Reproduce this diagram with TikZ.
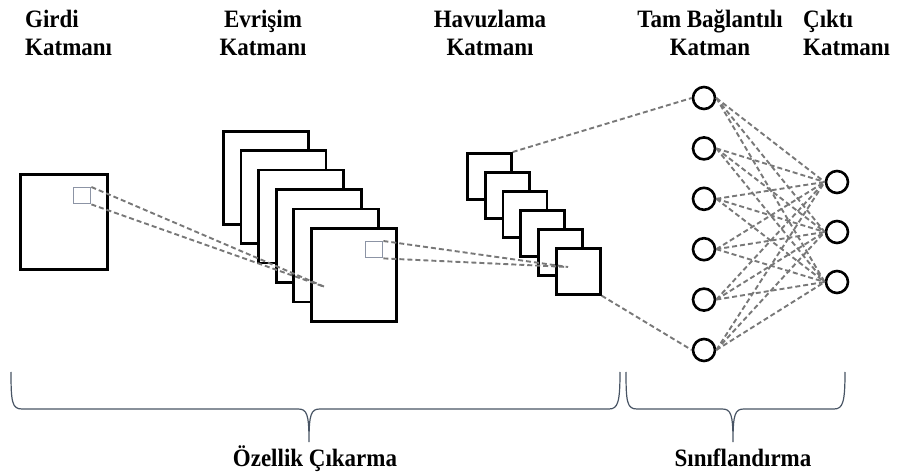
\documentclass[tikz,border=0pt]{standalone}
\usepackage{fontspec}
\setmainfont{Liberation Serif}[FakeStretch=0.92]
\definecolor{linkgray}{RGB}{120,120,120}
\definecolor{patchgray}{RGB}{140,148,165}
\definecolor{bracecol}{RGB}{72,84,100}
\usepackage{tikz}

\begin{document}
\begin{tikzpicture}[x=1pt,y=-1pt,
    lbl/.style={font=\bfseries\fontsize{25}{28}\selectfont,inner sep=0pt},
    fmap/.style={draw,line width=2.7pt,fill=white,anchor=north west,inner sep=0pt},
    patch/.style={draw=patchgray,line width=1.4pt,anchor=north west,inner sep=0pt,minimum width=17pt,minimum height=16pt},
    neuron/.style={circle,draw,line width=2.6pt,fill=white,inner sep=0pt,minimum size=22pt},
    link/.style={linkgray,line width=1.9pt,dash pattern=on 5pt off 3pt},
    brc/.style={bracecol,line width=1.2pt}]
        \useasboundingbox (0,0) rectangle (898,473);
        \node[lbl,anchor=north west,align=left] (hin) at (25,10) {Girdi\\Katmanı};
        \node[lbl,anchor=north,align=center] (hconv) at (263,10) {Evrişim\\Katmanı};
        \node[lbl,anchor=north,align=center] (hpool) at (490,10) {Havuzlama\\Katmanı};
        \node[lbl,anchor=north,align=center] (hfc) at (710,10) {Tam Bağlantılı\\Katman};
        \node[lbl,anchor=north west,align=left] (hout) at (803,10) {Çıktı\\Katmanı};
        \node[fmap,minimum width=87pt,minimum height=95pt] (inp) at (19,173) {};
        \node[patch] (ipatch) at (73,187) {};
        \foreach \i in {1,...,6}
          \node[fmap,minimum width=85pt,minimum height=93pt] (c\i) at ({222+17.6*(\i-1)},{130+19.4*(\i-1)}) {};
        \node[patch] (cpatch) at (365,241) {};
        \foreach \i in {1,...,6}
          \node[fmap,minimum width=44pt,minimum height=46pt] (p\i) at ({466+17.8*(\i-1)},{152+19*(\i-1)}) {};
        \foreach \i in {1,...,6}
          \node[neuron] (h\i) at (704,{98+50.4*(\i-1)}) {};
        \foreach \j in {1,2,3}
          \node[neuron] (o\j) at (837,{182+50*(\j-1)}) {};
        \coordinate (cend) at (325,287);
        \coordinate (pend) at (568,267);
        \draw[link] (ipatch.north east) -- (cend);
        \draw[link] (ipatch.south east) -- (cend);
        \draw[link] (cpatch.north east) -- (pend);
        \draw[link] (cpatch.south east) -- (pend);
        \draw[link] (p1.north east) -- (h1.west);
        \draw[link] (p6.south east) -- (h6.west);
        \foreach \i in {1,...,6}
          \foreach \j in {1,2,3}
            \draw[link] (h\i.east) -- (o\j.west);
        \draw[brc] (11,372) .. controls (11,402) and (12,409) .. (22,409) -- (298,409)
          .. controls (307,409) and (309,414) .. (309,442)
          .. controls (309,414) and (311,409) .. (320,409) -- (609,409)
          .. controls (618,409) and (620,402) .. (620,372);
        \draw[brc] (626,372) .. controls (626,402) and (627,409) .. (637,409) -- (722,409)
          .. controls (731,409) and (733,414) .. (733,442)
          .. controls (733,414) and (735,409) .. (744,409) -- (834,409)
          .. controls (843,409) and (845,402) .. (845,372);
        \node[lbl,anchor=base] (fe) at (315,466) {Özellik Çıkarma};
        \node[lbl,anchor=base] (cls) at (743,466) {Sınıflandırma};
      \end{tikzpicture}
\end{document}
